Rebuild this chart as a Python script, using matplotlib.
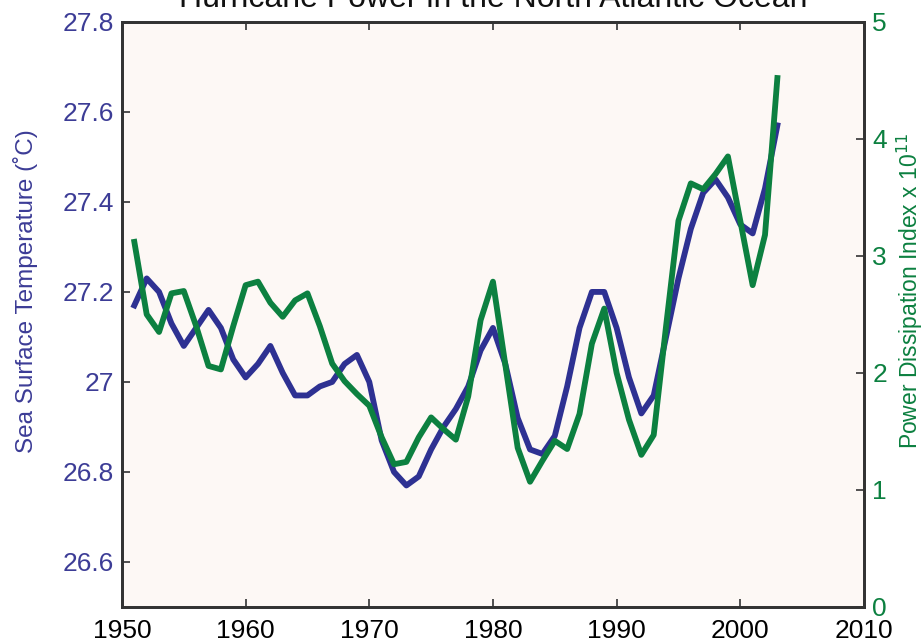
import matplotlib
matplotlib.use("Agg")
import matplotlib.pyplot as plt

plt.rcParams['font.family'] = ['Liberation Sans', 'DejaVu Sans']

years = list(range(1951, 2004))
sst = [27.17, 27.23, 27.20, 27.13, 27.08, 27.12, 27.16, 27.12, 27.05, 27.01,
       27.04, 27.08, 27.02, 26.97, 26.97, 26.99, 27.00, 27.04, 27.06, 27.00,
       26.87, 26.80, 26.77, 26.79, 26.85, 26.90, 26.94, 26.99, 27.07, 27.12,
       27.04, 26.92, 26.85, 26.84, 26.88, 26.99, 27.12, 27.20, 27.20, 27.12,
       27.01, 26.93, 26.97, 27.10, 27.23, 27.34, 27.42, 27.45, 27.41, 27.35,
       27.33, 27.43, 27.57]
pdi = [3.12, 2.50, 2.35, 2.68, 2.70, 2.40, 2.06, 2.03, 2.40, 2.75,
       2.78, 2.60, 2.48, 2.62, 2.68, 2.40, 2.08, 1.93, 1.82, 1.72,
       1.45, 1.22, 1.24, 1.45, 1.62, 1.52, 1.43, 1.80, 2.45, 2.78,
       2.07, 1.36, 1.07, 1.25, 1.42, 1.35, 1.65, 2.25, 2.55, 2.00,
       1.60, 1.30, 1.47, 2.40, 3.30, 3.62, 3.57, 3.70, 3.85, 3.30,
       2.75, 3.18, 4.52]

x_ticks = [1950, 1960, 1970, 1980, 1990, 2000, 2010]
left_ticks = [26.6, 26.8, 27.0, 27.2, 27.4, 27.6, 27.8]
left_labels = ['26.6', '26.8', '27', '27.2', '27.4', '27.6', '27.8']
right_ticks = [0, 1, 2, 3, 4, 5]

blue = '#2E3192'
blue_txt = '#3C3C96'
green = '#0C8040'
spine = '#333333'

fig = plt.figure(figsize=(9.24, 6.43), dpi=100)
ax = fig.add_axes([0.132, 0.056, 0.803, 0.91])
ax.set_facecolor('#FDF8F5')
ax2 = ax.twinx()

ax.plot(years, sst, color=blue, lw=4.2, solid_joinstyle='round', zorder=2)
ax2.plot(years, pdi, color=green, lw=4.2, solid_joinstyle='round', zorder=3)

ax.set_xlim(1950, 2010)
ax.set_ylim(26.5, 27.8)
ax2.set_ylim(0, 5)

ax.set_xticks(x_ticks)
ax.set_xticklabels([str(t) for t in x_ticks], fontsize=19)
ax.set_yticks(left_ticks)
ax.set_yticklabels(left_labels, fontsize=19, color=blue_txt)
ax2.set_yticks(right_ticks)
ax2.set_yticklabels([str(t) for t in right_ticks], fontsize=19, color=green)

ax.tick_params(axis='x', direction='in', length=6, width=1.2, top=True, color=spine, pad=9)
ax.tick_params(axis='y', direction='in', length=6, width=1.2, color=spine, pad=6)
ax2.tick_params(axis='y', direction='in', length=6, width=1.2, color=spine, pad=6)

for a in (ax, ax2):
    for s in a.spines.values():
        s.set_linewidth(2)
        s.set_color(spine)

ax.set_ylabel('Sea Surface Temperature (˚C)', fontsize=17.5, color=blue_txt)
ax2.set_ylabel('Power Dissipation Index x 10$^{11}$', fontsize=16.5, color=green)
ax.yaxis.set_label_coords(-0.113, 0.54)
ax2.yaxis.set_label_coords(1.042, 0.54)

fig.text(0.5335, 1 - 7 / 643, 'Hurricane Power in the North Atlantic Ocean', ha='center', va='baseline',
         fontsize=23, color='#111111')

fig.savefig('out.png', dpi=100)
